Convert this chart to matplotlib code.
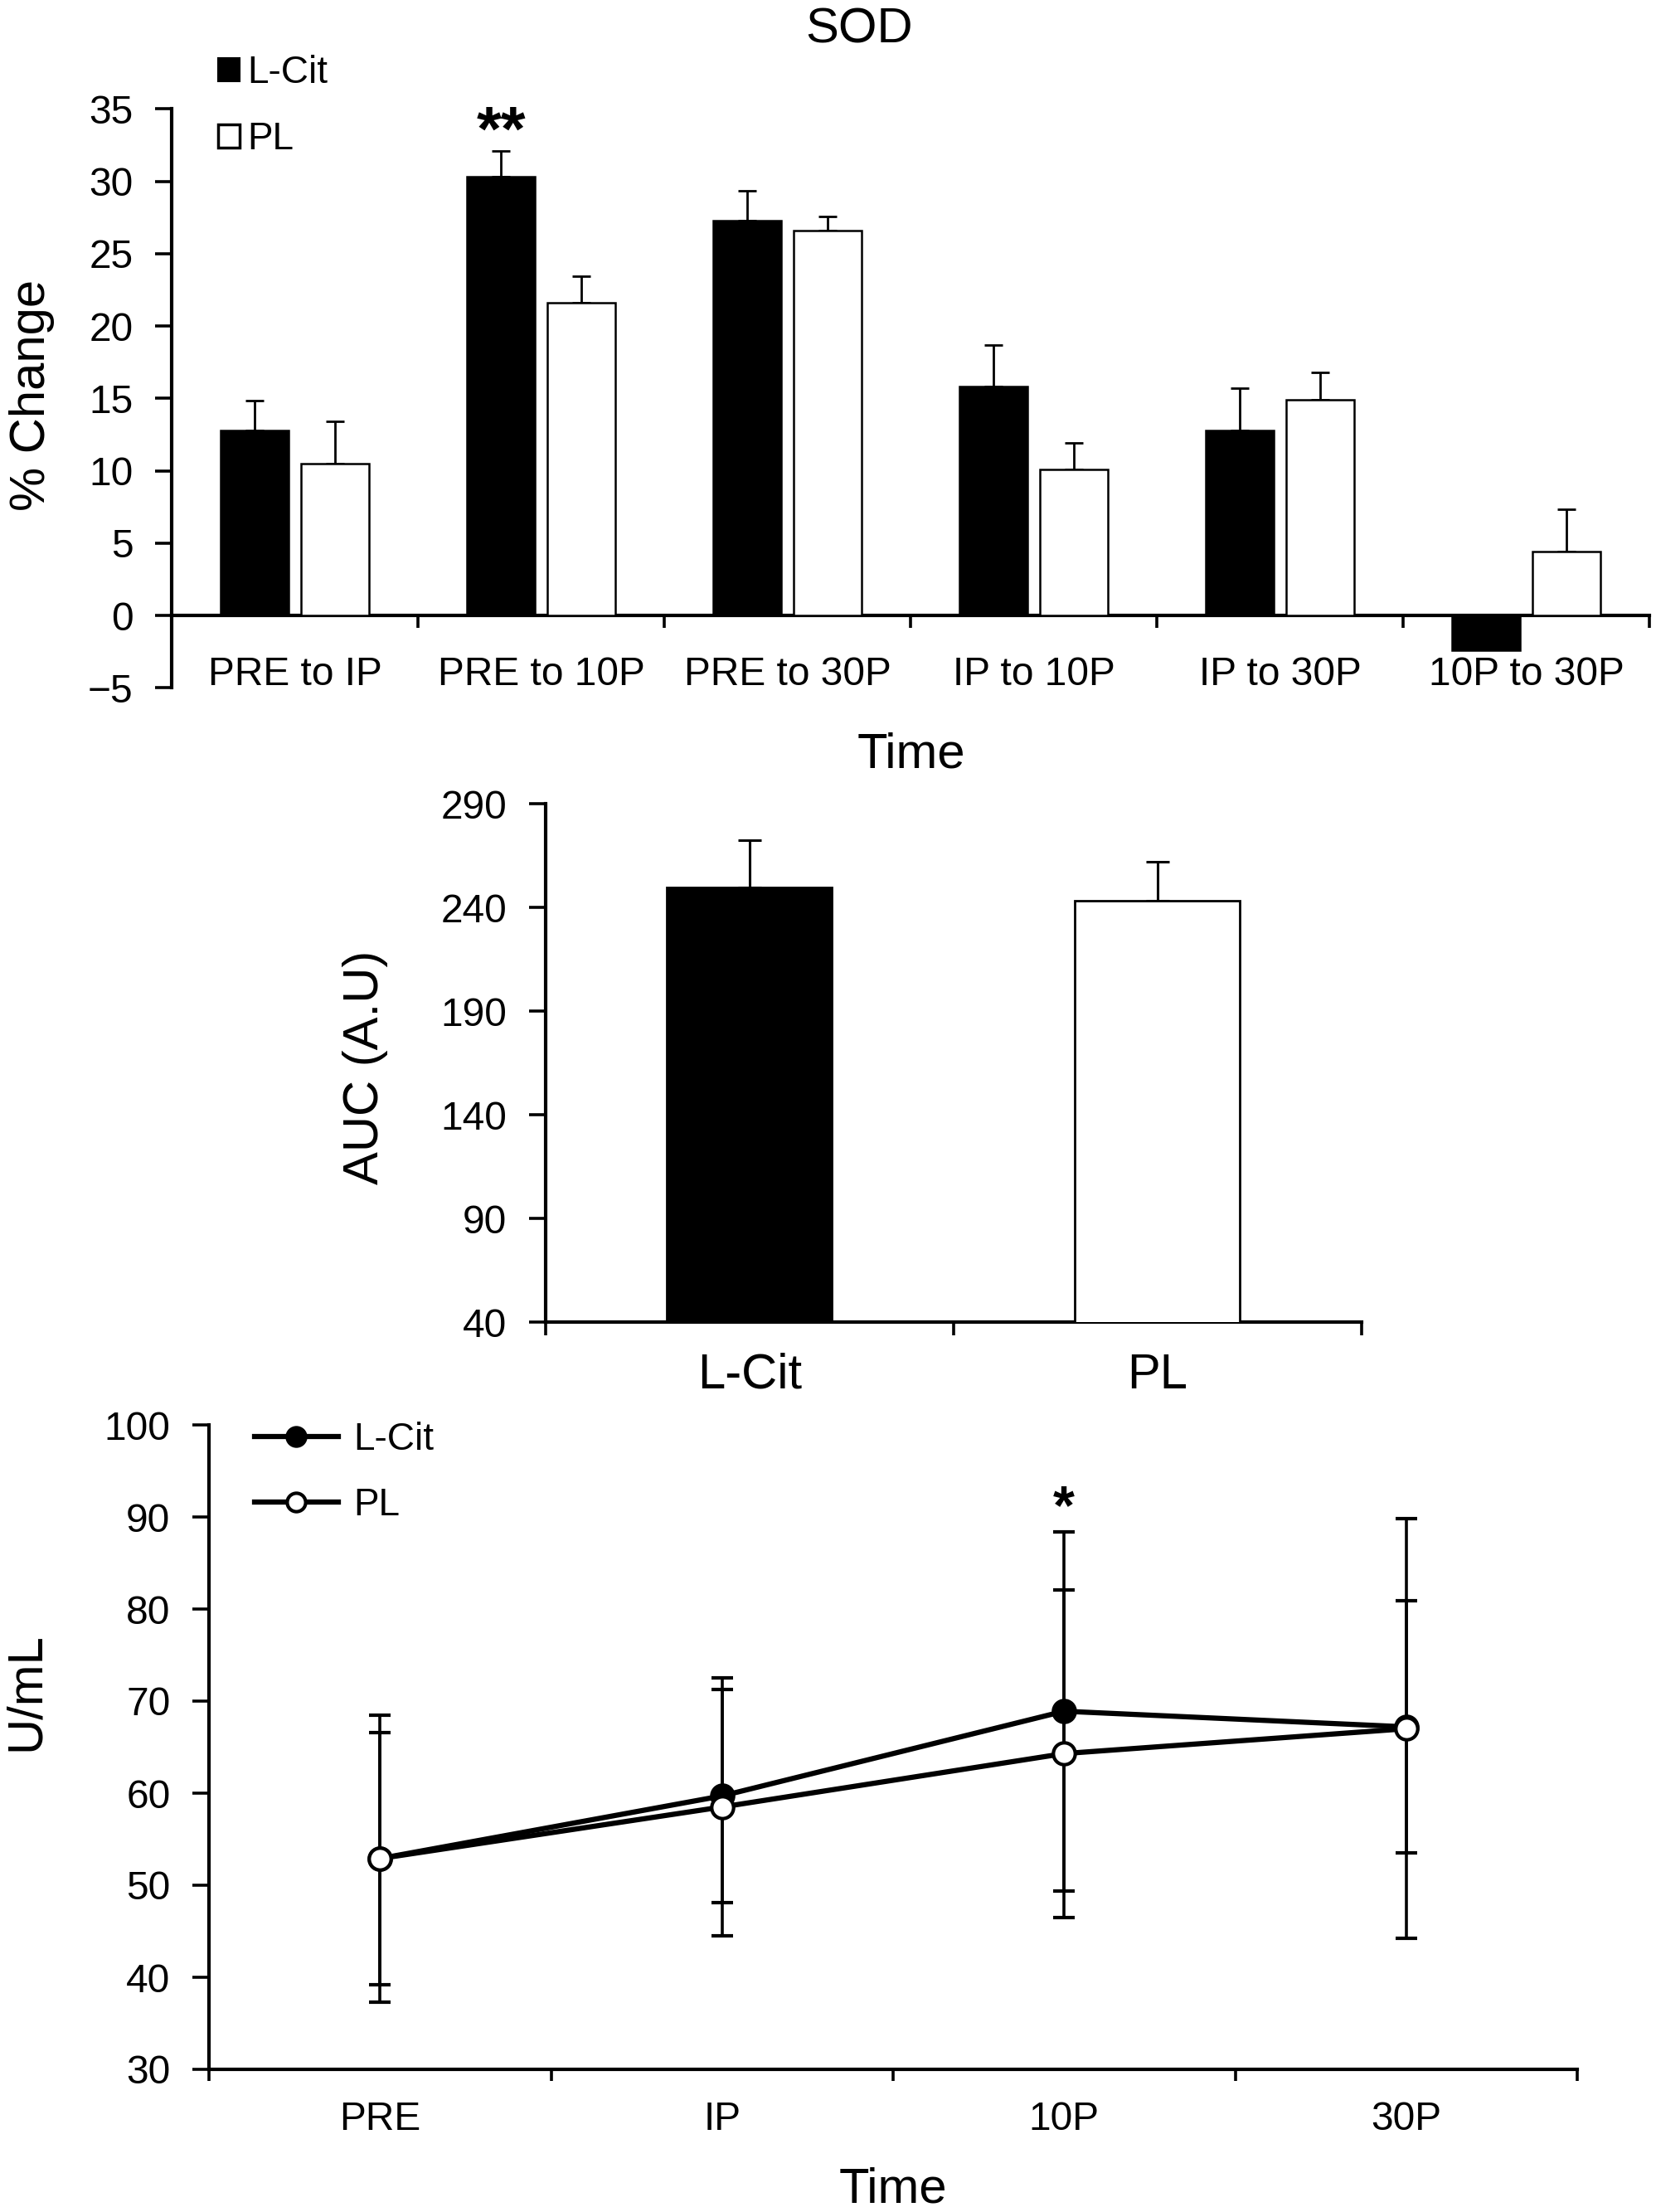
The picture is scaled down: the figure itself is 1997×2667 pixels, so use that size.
import numpy as np
import matplotlib
matplotlib.use("Agg")
import matplotlib.pyplot as plt
from matplotlib.patches import Patch
from matplotlib.lines import Line2D

plt.rcParams['font.family'] = ['Liberation Sans', 'DejaVu Sans']

# ---------------- data ----------------
change_labels = ["PRE to IP", "PRE to 10P", "PRE to 30P", "IP to 10P", "IP to 30P", "10P to 30P"]
lcit_change = [12.8, 30.3, 27.3, 15.8, 12.8, -2.4]
lcit_change_err = [2.05, 1.8, 2.05, 2.9, 2.9, np.nan]
pl_change = [10.5, 21.6, 26.6, 10.1, 14.9, 4.4]
pl_change_err = [2.9, 1.85, 1.0, 1.85, 1.9, 2.95]

auc_groups = ["L-Cit", "PL"]
auc_values = [249.8, 243.5]
auc_err = [22.8, 18.8]

time_labels = ["PRE", "IP", "10P", "30P"]
lcit_uml = [52.9, 59.7, 68.9, 67.2]
lcit_uml_sd = [13.7, 11.6, 19.5, 13.7]
pl_uml = [52.9, 58.5, 64.3, 67.0]
pl_uml_sd = [15.6, 14.0, 17.8, 22.8]

W, H = 1997, 2667
DPI = 100
fig = plt.figure(figsize=(W / DPI, H / DPI), dpi=DPI)


def px_axes(l, t, r, b):
    return fig.add_axes([l / W, 1 - b / H, (r - l) / W, (b - t) / H])


TICK_FS = 34.5
LAB_FS = 43
SPINE_LW = 3.0

def style(ax):
    for s in ['top', 'right']:
        ax.spines[s].set_visible(False)
    for s in ['left', 'bottom']:
        ax.spines[s].set_linewidth(SPINE_LW)
    ax.tick_params(axis='y', direction='out', length=14.5, width=2.6,
                   labelsize=TICK_FS, pad=19)
    ax.tick_params(axis='x', which='major', direction='out', length=11, width=2.6,
                   labelbottom=False)
    ax.tick_params(axis='x', which='minor', length=0, labelsize=TICK_FS)


# ---------------- top panel: % change ----------------
ax1 = px_axes(207, 131.4, 1989, 829.4)
style(ax1)
ax1.set_xlim(0, 6)
ax1.set_ylim(-5, 35)
ax1.spines['bottom'].set_position(('data', 0))
x = np.arange(len(change_labels)) + 0.5
off, bw = 0.163, 0.278
ax1.bar(x - off, lcit_change, bw, color='black', edgecolor='black', linewidth=1.8, zorder=3)
ax1.bar(x + off, pl_change, bw, color='white', edgecolor='black', linewidth=1.8, zorder=3)
le = np.array(lcit_change_err, dtype=float)
m = ~np.isnan(le)
ax1.errorbar((x - off)[m], np.array(lcit_change)[m], yerr=[np.zeros(m.sum()), le[m]],
             fmt='none', ecolor='black', elinewidth=2.0, capsize=8, capthick=2.0, zorder=2)
ax1.errorbar(x + off, pl_change, yerr=[np.zeros(len(pl_change)), pl_change_err],
             fmt='none', ecolor='black', elinewidth=2.0, capsize=8, capthick=2.0, zorder=2)
ax1.set_yticks(np.arange(-5, 36, 5))
ax1.set_yticklabels(["\u22125"] + [str(v) for v in range(0, 36, 5)])
ax1.set_xticks(np.arange(0, 7))
ax1.set_xticks(x, minor=True)
ax1.set_xticklabels(change_labels, minor=True)
ax1.tick_params(axis='x', which='minor', pad=35)
ax1.text(x[1] - off, 32.15, "**", ha='center', va='baseline', fontsize=55,
         fontweight='bold', clip_on=False)

fig.text(1036 / W, 1 - 52 / H, "SOD", ha='center', va='baseline', fontsize=LAB_FS)
fig.text(1099 / W, 1 - 925 / H, "Time", ha='center', va='baseline', fontsize=LAB_FS)
fig.text(38 / W, 1 - 476 / H, "% Change", ha='center', va='center', rotation=90,
         fontsize=LAB_FS)

h1 = [Patch(facecolor='black', edgecolor='black', linewidth=1.5),
      Patch(facecolor='white', edgecolor='black', linewidth=2.5)]
leg1 = fig.legend(h1, ["L-Cit", "PL"], loc='upper left', bbox_to_anchor=(263 / W, 1 - 66 / H),
                  frameon=False, fontsize=33, handlelength=0.56, handleheight=0.56,
                  handletextpad=0.2, labelspacing=0.79, borderpad=0, borderaxespad=0)

# ---------------- middle panel: AUC ----------------
ax2 = px_axes(658, 969.4, 1641.5, 1594.5)
style(ax2)
ax2.set_xlim(0, 2)
ax2.set_ylim(40, 290)
xa = np.arange(len(auc_groups)) + 0.5
ax2.bar(xa, auc_values, 0.405, color=['black', 'white'], edgecolor='black', linewidth=2.0, zorder=3)
ax2.errorbar(xa, auc_values, yerr=[np.zeros(2), auc_err], fmt='none', ecolor='black',
             elinewidth=2.2, capsize=10, capthick=2.2, zorder=2)
ax2.set_yticks(np.arange(40, 291, 50))
ax2.set_xticks([0, 1, 2])
ax2.set_xticks(xa, minor=True)
ax2.set_xticklabels(auc_groups, minor=True)
ax2.tick_params(axis='x', which='major', length=11.5)
ax2.tick_params(axis='x', which='minor', labelsize=LAB_FS, pad=26)
fig.text(440 / W, 1 - 1287 / H, "AUC (A.U)", ha='center', va='center', rotation=90,
         fontsize=LAB_FS)

# ---------------- bottom panel: U/mL ----------------
ax3 = px_axes(252, 1718, 1902, 2495)
style(ax3)
ax3.set_xlim(0, 4)
ax3.set_ylim(30, 100)
xt = np.arange(len(time_labels)) + 0.5
ax3.errorbar(xt, lcit_uml, yerr=lcit_uml_sd, fmt='-o', color='black', linewidth=4.5,
             markersize=19, markerfacecolor='black', markeredgecolor='black', markeredgewidth=3,
             ecolor='black', elinewidth=2.6, capsize=9.5, capthick=2.6, zorder=3,
             clip_on=False)
ax3.errorbar(xt, pl_uml, yerr=pl_uml_sd, fmt='-o', color='black', linewidth=4.5,
             markersize=19, markerfacecolor='white', markeredgecolor='black', markeredgewidth=3,
             ecolor='black', elinewidth=2.6, capsize=9.5, capthick=2.6, zorder=4,
             clip_on=False)
ax3.set_yticks(np.arange(30, 101, 10))
ax3.set_xticks(np.arange(0, 5))
ax3.set_xticks(xt, minor=True)
ax3.set_xticklabels(time_labels, minor=True)
ax3.tick_params(axis='x', which='major', length=10)
ax3.tick_params(axis='x', which='minor', pad=27)
ax3.text(xt[2], 89.3, "*", ha='center', va='baseline', fontsize=48, fontweight='bold')
fig.text(1077 / W, 1 - 2655 / H, "Time", ha='center', va='baseline', fontsize=LAB_FS)
fig.text(31 / W, 1 - 2040 / H, "U/mL", ha='center', va='center', rotation=90, fontsize=LAB_FS)

h3 = [Line2D([], [], color='black', linewidth=4.5, marker='o', markersize=16,
             markerfacecolor='black', markeredgecolor='black', markeredgewidth=3),
      Line2D([], [], color='black', linewidth=4.5, marker='o', markersize=16,
             markerfacecolor='white', markeredgecolor='black', markeredgewidth=3)]
leg3 = fig.legend(h3, ["L-Cit", "PL"], loc='upper left', bbox_to_anchor=(307 / W, 1 - 1714 / H),
                  frameon=False, fontsize=33, handlelength=2.2, handletextpad=0.4,
                  labelspacing=0.77, borderpad=0, borderaxespad=0, numpoints=1)

fig.savefig("out.png", dpi=DPI, facecolor='white')
